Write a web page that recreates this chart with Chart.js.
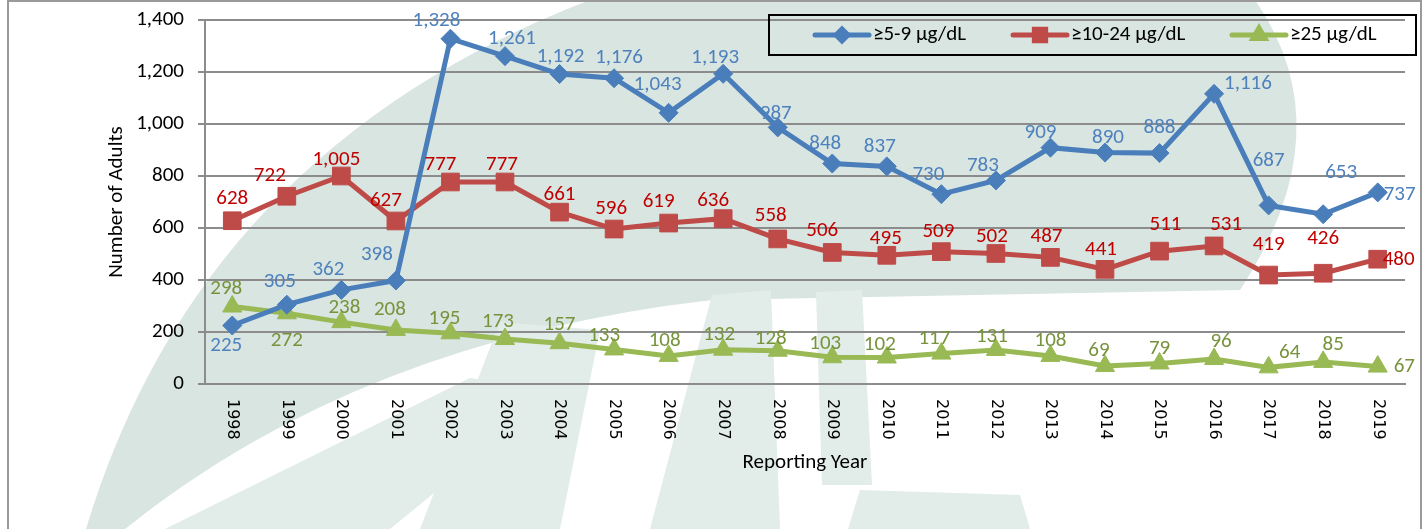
<!DOCTYPE html>
<html>
<head>
<meta charset="utf-8">
<script src="https://cdn.jsdelivr.net/npm/chart.js@4/dist/chart.umd.min.js"></script>
<style>
  html, body { margin: 0; padding: 0; background: #fff; }
  #wrap { width: 1424px; height: 529px; position: relative; }
</style>
</head>
<body>
<div id="wrap"><canvas id="chart"></canvas></div>
<script>
// Datos
const years = ['1998', '1999', '2000', '2001', '2002', '2003', '2004', '2005', '2006', '2007', '2008',
  '2009', '2010', '2011', '2012', '2013', '2014', '2015', '2016', '2017', '2018', '2019'];

const blueValues = [225, 305, 362, 398, 1328, 1261, 1192, 1176, 1043, 1193, 987,
  848, 837, 730, 783, 909, 890, 888, 1116, 687, 653, 737];

// el punto de 2000 esta cerca de 800 pero la etiqueta dice 1,005
const redValues = [628, 722, 800, 627, 777, 777, 661, 596, 619, 636, 558,
  506, 495, 509, 502, 487, 441, 511, 531, 419, 426, 480];
const redLabels = [628, 722, 1005, 627, 777, 777, 661, 596, 619, 636, 558,
  506, 495, 509, 502, 487, 441, 511, 531, 419, 426, 480];

const greenValues = [298, 272, 238, 208, 195, 173, 157, 133, 108, 132, 128,
  103, 102, 117, 131, 108, 69, 79, 96, 64, 85, 67];

const seriesNames = ['\u22655-9 \u00b5g/dL', '\u226510-24 \u00b5g/dL', '\u226525 \u00b5g/dL'];

// desplazamiento de cada etiqueta respecto a su punto [dx, dy]
const blueShift = [[-6, 20], [-7, -23], [-13, -20], [-19, -26], [-14, -18], [7, -17], [1, -17], [5, -20],
  [-11, -28], [-8, -16], [-2, -14], [-7, -20], [-7, -20], [-13, -19], [-13, -15], [-10, -15],
  [3, -15], [0, -25], [10, -10], [0, -45], [18, -41], [6, 2]];
const redShift = [[0, -22], [-17, -21], [-5, -16], [-10, -20], [-10, -17], [-3, -17], [0, -17], [-3, -20],
  [-10, -21], [-10, -18], [-7, -23], [-10, -22], [-1, -17], [-3, -20], [-4, -17], [-4, -21],
  [-4, -20], [6, -26], [12, -21], [0, -30], [0, -34], [5, 1]];
const greenShift = [[-6, -18], [0, 27], [3, -14], [-6, -20], [-6, -15], [-7, -17], [0, -18], [-10, -14],
  [-4, -15], [-4, -15], [-7, -12], [-7, -13], [-7, -13], [-7, -15], [-4, -13], [0, -15],
  [-6, -15], [0, -15], [7, -17], [21, -15], [10, -17], [16, 0]];

const FONT = 'Carlito, Calibri, Lato, sans-serif';
const fmt = v => Number(v).toLocaleString('en-US');

/**
 * Fondo: marco y marca de agua
 */
const backgroundPlugin = {
  id: 'background',
  beforeDraw(chart) {
    const ctx = chart.ctx;
    ctx.save();
    ctx.fillStyle = '#fff';
    ctx.fillRect(0, 0, chart.width, chart.height);

    // hoja grande
    ctx.fillStyle = '#d8e5e1';
    ctx.beginPath();
    ctx.moveTo(86, 529);
    ctx.quadraticCurveTo(200, 150, 590, 0);
    ctx.lineTo(1255, 0);
    ctx.quadraticCurveTo(1345, 130, 1240, 290);
    ctx.lineTo(712, 300);
    ctx.quadraticCurveTo(360, 340, 125, 529);
    ctx.closePath();
    ctx.fill();

    // franjas inferiores, mas claras
    ctx.fillStyle = '#e2ece9';
    const bands = [
      [[165, 529], [390, 529], [560, 390], [470, 378]],
      [[420, 529], [560, 529], [600, 330], [500, 322]],
      [[650, 529], [780, 529], [771, 290], [712, 295]],
      [[816, 292], [862, 290], [872, 485], [822, 485]],
      [[848, 529], [1030, 529], [1020, 495], [860, 490]]
    ];
    bands.forEach(b => {
      ctx.beginPath();
      b.forEach((p, i) => (i ? ctx.lineTo(p[0], p[1]) : ctx.moveTo(p[0], p[1])));
      ctx.closePath();
      ctx.fill();
    });

    ctx.strokeStyle = '#9a9a9a';
    ctx.lineWidth = 2;
    ctx.strokeRect(8, 1, 1413, 560);
    ctx.restore();
  }
};

/**
 * Etiquetas de datos, ejes y leyenda
 */
const annotatePlugin = {
  id: 'annotate',
  afterDatasetsDraw(chart) {
    const ctx = chart.ctx;
    ctx.save();
    ctx.font = '21px ' + FONT;
    ctx.textBaseline = 'middle';
    chart.data.datasets.forEach((ds, di) => {
      const meta = chart.getDatasetMeta(di);
      meta.data.forEach((pt, i) => {
        const text = fmt(ds.labelText ? ds.labelText[i] : ds.data[i]);
        const [dx, dy] = ds.labelShift[i];
        ctx.fillStyle = ds.labelColor;
        ctx.textAlign = i === meta.data.length - 1 ? 'left' : 'center';
        if (di === 0 && i === 18) ctx.textAlign = 'left';
        ctx.fillText(text, pt.x + dx, pt.y + dy);
      });
    });
    ctx.restore();
  },
  afterDraw(chart) {
    const ctx = chart.ctx;
    const xs = chart.scales.x;
    const area = chart.chartArea;
    ctx.save();

    // etiquetas del eje x, giradas hacia abajo
    ctx.fillStyle = '#000';
    ctx.font = '16px "DejaVu Sans", sans-serif';
    ctx.textAlign = 'left';
    ctx.textBaseline = 'middle';
    years.forEach((yr, i) => {
      ctx.save();
      ctx.translate(xs.getPixelForTick(i), area.bottom + 15);
      ctx.rotate(Math.PI / 2);
      ctx.fillText(yr, 0, 0);
      ctx.restore();
    });

    // titulos
    ctx.font = '21px ' + FONT;
    ctx.textAlign = 'center';
    ctx.fillText('Reporting Year', (area.left + area.right) / 2, 463);
    ctx.save();
    ctx.translate(117, (area.top + area.bottom) / 2);
    ctx.rotate(-Math.PI / 2);
    ctx.fillText('Number of Adults', 0, 0);
    ctx.restore();

    // leyenda
    ctx.strokeStyle = '#000';
    ctx.lineWidth = 2;
    ctx.strokeRect(769, 15, 647, 40);
    const legendX = [815, 1013, 1232];
    chart.data.datasets.forEach((ds, di) => {
      const lx = legendX[di];
      ctx.strokeStyle = ds.borderColor;
      ctx.lineWidth = 5;
      ctx.lineCap = 'round';
      ctx.beginPath();
      ctx.moveTo(lx, 35);
      ctx.lineTo(lx + 54, 35);
      ctx.stroke();
      ctx.fillStyle = ds.backgroundColor;
      Chart.helpers.drawPoint(ctx, {
        pointStyle: ds.pointStyle, radius: ds.legendRadius, rotation: 0, borderWidth: 1
      }, lx + 27, 35);
      ctx.fillStyle = '#000';
      ctx.font = '21px ' + FONT;
      ctx.textAlign = 'left';
      ctx.fillText(seriesNames[di], lx + 58, 35);
    });
    ctx.restore();
  }
};

new Chart(document.getElementById('chart'), {
  type: 'line',
  data: {
    labels: years,
    datasets: [
      {
        label: seriesNames[0],
        data: blueValues,
        borderColor: '#4a7ebb',
        backgroundColor: '#4a7ebb',
        borderWidth: 5,
        pointStyle: 'rectRot',
        pointRadius: 9.5,
        pointBorderWidth: 1,
        legendRadius: 6,
        labelColor: '#4f81bd',
        labelShift: blueShift
      },
      {
        label: seriesNames[1],
        data: redValues,
        labelText: redLabels,
        borderColor: '#be4b48',
        backgroundColor: '#be4b48',
        borderWidth: 5,
        pointStyle: 'rect',
        pointRadius: 12.5,
        pointBorderWidth: 1,
        legendRadius: 8,
        labelColor: '#c00000',
        labelShift: redShift
      },
      {
        label: seriesNames[2],
        data: greenValues,
        borderColor: '#98b954',
        backgroundColor: '#98b954',
        borderWidth: 5,
        pointStyle: 'triangle',
        pointRadius: 11,
        pointBorderWidth: 1,
        legendRadius: 7,
        labelColor: '#77933c',
        labelShift: greenShift
      }
    ]
  },
  options: {
    responsive: true,
    maintainAspectRatio: false,
    animation: false,
    events: [],
    layout: { padding: { left: 0, right: 19, top: 20, bottom: 0 } },
    plugins: {
      legend: { display: false },
      tooltip: { enabled: false }
    },
    scales: {
      x: {
        offset: true,
        grid: { display: false },
        border: { display: true, color: '#8c8c8c', width: 2 },
        ticks: { display: false },
        afterFit: (s) => { s.height = 145; }
      },
      y: {
        min: 0,
        max: 1400,
        ticks: {
          stepSize: 200,
          color: '#000',
          padding: 14,
          font: { family: FONT, size: 21 },
          callback: (val) => fmt(val)
        },
        grid: { color: '#8c8c8c', lineWidth: 2, tickLength: 7 },
        border: { display: true, color: '#8c8c8c', width: 2 },
        afterFit: (s) => {
          s.width = 205;
          s.paddingTop = 0;
          s.paddingBottom = 0;
        }
      }
    }
  },
  plugins: [backgroundPlugin, annotatePlugin]
});
</script>
</body>
</html>
